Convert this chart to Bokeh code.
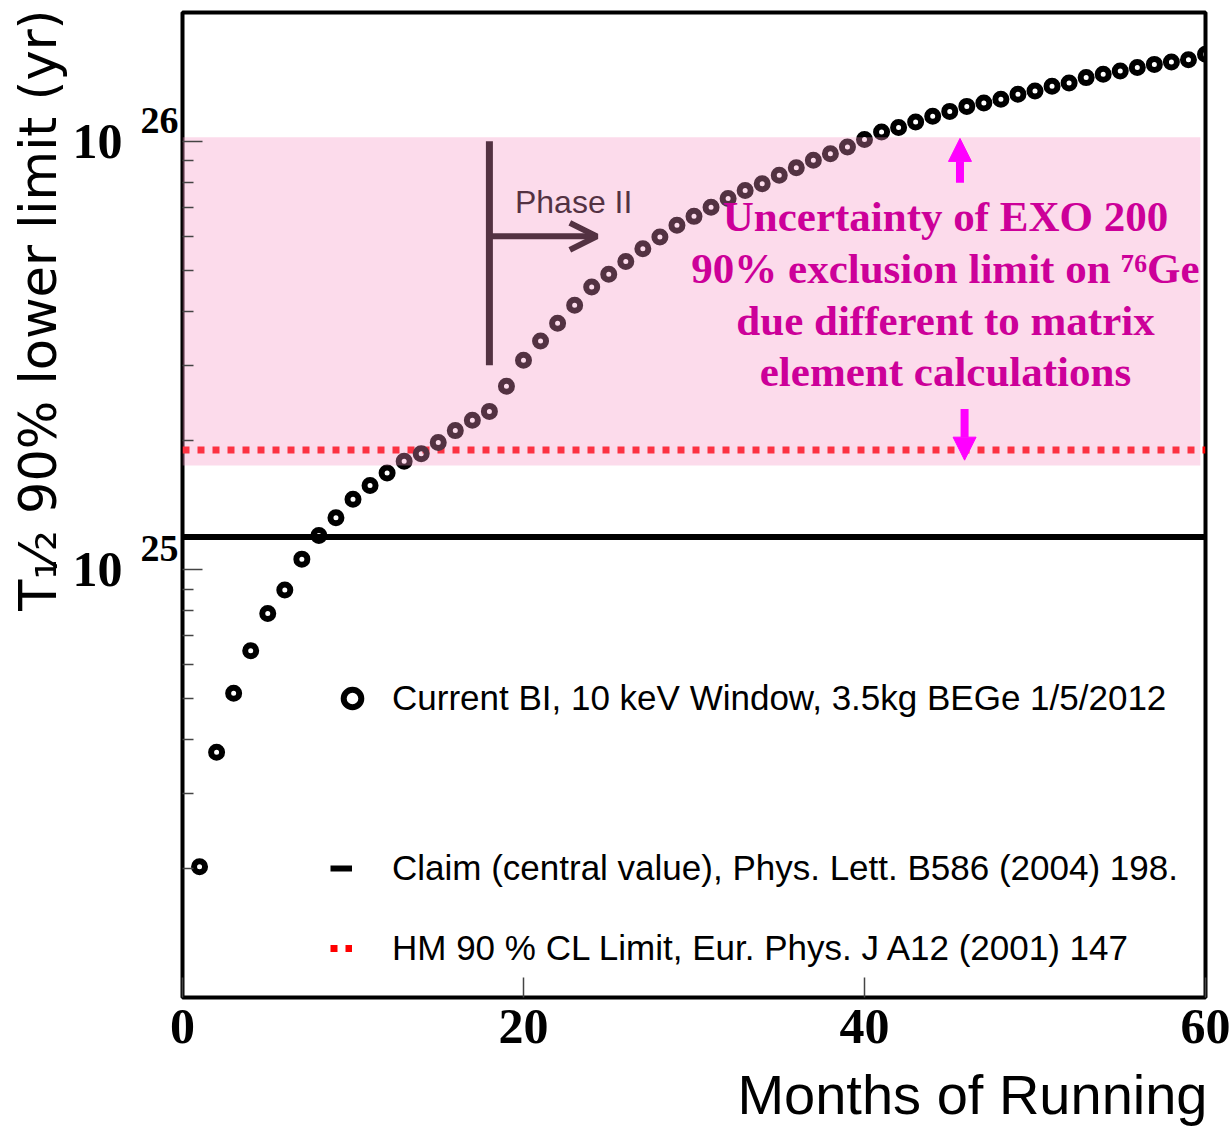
import math
from bokeh.plotting import figure
from bokeh.models import (Range1d, FixedTicker, CustomJSTickFormatter, Label, Arrow, Title,
                          NormalHead, OpenHead, Legend, LegendItem, LogAxis, LogScale)
from bokeh.embed import file_html
from bokeh.resources import INLINE

# ---------------- data ----------------
months = list(range(1, 61))
t_half_limit = [2.02e24, 3.74e24, 5.14e24, 6.46e24, 7.89e24, 8.95e24, 1.057e25, 1.20e25,
                1.32e25, 1.458e25, 1.57e25, 1.68e25, 1.79e25, 1.864e25, 1.98e25, 2.11e25,
                2.23e25, 2.34e25, 2.68e25, 3.08e25, 3.415e25, 3.76e25, 4.14e25, 4.57e25,
                4.89e25, 5.24e25, 5.61e25, 5.98e25, 6.37e25, 6.68e25, 7.02e25, 7.35e25,
                7.68e25, 7.96e25, 8.33e25, 8.68e25, 9.03e25, 9.36e25, 9.70e25, 1.01e26,
                1.051e26, 1.077e26, 1.11e26, 1.144e26, 1.175e26, 1.207e26, 1.229e26,
                1.254e26, 1.288e26, 1.311e26, 1.345e26, 1.369e26, 1.409e26, 1.434e26,
                1.460e26, 1.487e26, 1.513e26, 1.532e26, 1.552e26, 1.597e26]
claim_value = [1.19e25, 1.19e25]
hm_limit = [1.9e25, 1.9e25]
line_x = [0, 60]
band_x = [0, 59.7]
band_y = [1.75e25, 1.022e26]
x_ticks = [0, 20, 40, 60]
y_range_bounds = [1e24, 2e26]
y_major = [1e25, 1e26]
y_base_label = "10"
y_exponent_labels = ["25", "26"]
y_minor = [k * 10.0 ** e for e in (24, 25) for k in range(2, 10)]

x_title = "Months of Running"
y_title = "T\u2081\u2044\u2082 90% lower limit (yr)"
legend_labels = ["Current BI, 10 keV Window, 3.5kg BEGe 1/5/2012",
                 "Claim (central value), Phys. Lett. B586 (2004) 198.",
                 "HM 90 % CL Limit, Eur. Phys. J A12 (2001) 147"]
exo_lines = ["Uncertainty of EXO 200",
             "90% exclusion limit on \u2077\u2076Ge",
             "due different to matrix",
             "element calculations"]
exo_line_y = [6.68e25, 5.05e25, 3.82e25, 2.90e25]
exo_x = 44.75

# ---------------- figure ----------------
FRAME_H = 985
p = figure(width=1232, height=1145, y_axis_type="log",
           x_range=Range1d(0, 60), y_range=Range1d(*y_range_bounds),
           output_backend="svg", toolbar_location=None,
           min_border_left=182, min_border_right=27, min_border_top=12, min_border_bottom=148)
p.grid.visible = False
p.outline_line_color = "black"
p.outline_line_width = 4
p.background_fill_color = "white"
p.border_fill_color = "white"

xa = p.xaxis[0]
xa.ticker = FixedTicker(ticks=x_ticks)
xa.axis_line_color = None
xa.major_tick_in = 20
xa.major_tick_out = 0
xa.minor_tick_in = 0
xa.minor_tick_out = 0
xa.major_tick_line_color = "#444444"
xa.major_tick_line_width = 1.5
xa.major_label_text_font = "Liberation Serif"
xa.major_label_text_font_style = "bold"
xa.major_label_text_font_size = "50px"
xa.major_label_text_color = "black"
xa.major_label_standoff = 12

# inner y axis: ticks only
ya = p.yaxis[0]
ya.ticker = FixedTicker(ticks=y_major, minor_ticks=y_minor)
ya.formatter = CustomJSTickFormatter(code="return ''")
ya.axis_line_color = None
ya.major_tick_in = 20
ya.major_tick_out = 0
ya.minor_tick_in = 11
ya.minor_tick_out = 0
ya.major_tick_line_color = "#444444"
ya.minor_tick_line_color = "#444444"
ya.major_tick_line_width = 1.5
ya.minor_tick_line_width = 1.5
ya.major_label_standoff = 0
ya.major_label_text_font_size = "1px"

# exponent labels: same ticks, scale shifted so labels sit above the tick
exp_shift_px = 21
decades = math.log10(y_range_bounds[1] / y_range_bounds[0])
shift = 10 ** (-exp_shift_px * decades / FRAME_H)
p.extra_y_ranges = {"exp": Range1d(y_range_bounds[0] * shift, y_range_bounds[1] * shift)}
p.extra_y_scales = {"exp": LogScale()}

exp_axis = LogAxis(y_range_name="exp")
exp_axis.ticker = FixedTicker(ticks=y_major)
exp_axis.formatter = CustomJSTickFormatter(
    args=dict(major=y_major, labels=y_exponent_labels),
    code="""
for (let i = 0; i < major.length; i++) {
  if (Math.abs(Math.log10(tick) - Math.log10(major[i])) < 1e-6) { return labels[i] }
}
return ''
""")
base_axis = LogAxis()
base_axis.ticker = FixedTicker(ticks=y_major)
base_axis.formatter = CustomJSTickFormatter(args=dict(base=y_base_label), code="return base")

for ax, size, standoff in ((exp_axis, "38px", 4), (base_axis, "50px", 15)):
    ax.axis_line_color = None
    ax.major_tick_in = 0
    ax.major_tick_out = 0
    ax.minor_tick_in = 0
    ax.minor_tick_out = 0
    ax.major_tick_line_color = None
    ax.minor_tick_line_color = None
    ax.major_label_text_font = "Liberation Serif"
    ax.major_label_text_font_style = "bold"
    ax.major_label_text_font_size = size
    ax.major_label_text_color = "black"
    ax.major_label_standoff = standoff
    ax.major_label_orientation = "horizontal"

p.add_layout(exp_axis, "left")
p.add_layout(base_axis, "left")

# axis titles (right / top aligned as in the reference)
p.add_layout(Title(text=x_title, align="right", offset=-2, standoff=31,
                   text_font="Liberation Sans", text_font_style="normal",
                   text_font_size="56px", text_color="black"), "below")
p.add_layout(Title(text=y_title, align="right", offset=-3, standoff=3,
                   text_font="DejaVu Sans", text_font_style="normal",
                   text_font_size="51px", text_color="black"), "left")

# ---------------- Phase II marker (under the band) ----------------
p.add_layout(Arrow(x_start=18, y_start=3.0e25, x_end=18, y_end=1.0e26, start=None, end=None,
                   line_color="black", line_width=7, level="underlay"))
p.add_layout(Arrow(x_start=18, y_start=6.0e25, x_end=24.3, y_end=6.0e25,
                   end=OpenHead(size=27, line_width=6, line_color="black"),
                   line_color="black", line_width=6, level="underlay"))
p.add_layout(Label(x=19.5, y=7.2e25, text="Phase II", text_align="left", text_baseline="middle",
                   text_font="Liberation Sans", text_font_size="32px", text_color="black",
                   level="underlay"))

# ---------------- glyphs ----------------
claim_r = p.line(line_x, claim_value, line_color="black", line_width=6)
hm_r = p.line(line_x, hm_limit, line_color="#ff0000", line_width=7, line_dash="7 8")
pts_r = p.scatter(months, t_half_limit, marker="circle", size=11, line_width=6,
                  line_color="black", fill_alpha=0)
p.quad(left=[band_x[0]], right=[band_x[1]], bottom=[band_y[0]], top=[band_y[1]],
       fill_color=(246, 148, 196), fill_alpha=0.337, line_color=None)

# ---------------- EXO annotation ----------------
for t, yv in zip(exo_lines, exo_line_y):
    p.add_layout(Label(x=exo_x, y=yv, text=t, text_align="center", text_baseline="middle",
                       text_font="Liberation Serif", text_font_style="bold",
                       text_font_size="43px", text_color="#cc0099"))
p.add_layout(Arrow(x_start=45.6, y_start=8.0e25, x_end=45.6, y_end=1.016e26,
                   end=NormalHead(size=23, fill_color="#ff00ff", line_color="#ff00ff", line_width=1),
                   line_color="#ff00ff", line_width=8))
p.add_layout(Arrow(x_start=45.87, y_start=2.37e25, x_end=45.87, y_end=1.80e25,
                   end=NormalHead(size=23, fill_color="#ff00ff", line_color="#ff00ff", line_width=1),
                   line_color="#ff00ff", line_width=8))

# ---------------- legend ----------------
def make_legend(label, rend, loc, gw, standoff):
    return Legend(items=[LegendItem(label=label, renderers=[rend])], location=loc,
                  glyph_width=gw, glyph_height=44, label_height=44, label_standoff=standoff,
                  padding=0, margin=0, spacing=0, background_fill_alpha=0, border_line_alpha=0,
                  label_text_font="Liberation Sans", label_text_font_size="35px",
                  label_text_color="black", label_text_baseline="middle")

p.add_layout(make_legend(legend_labels[0], pts_r, (148, 277), 44, 18))
p.add_layout(make_legend(legend_labels[1], claim_r, (148, 107), 22, 40))
p.add_layout(make_legend(legend_labels[2], hm_r, (148, 27), 22, 40))

open("out.html", "w").write(file_html(p, INLINE))
